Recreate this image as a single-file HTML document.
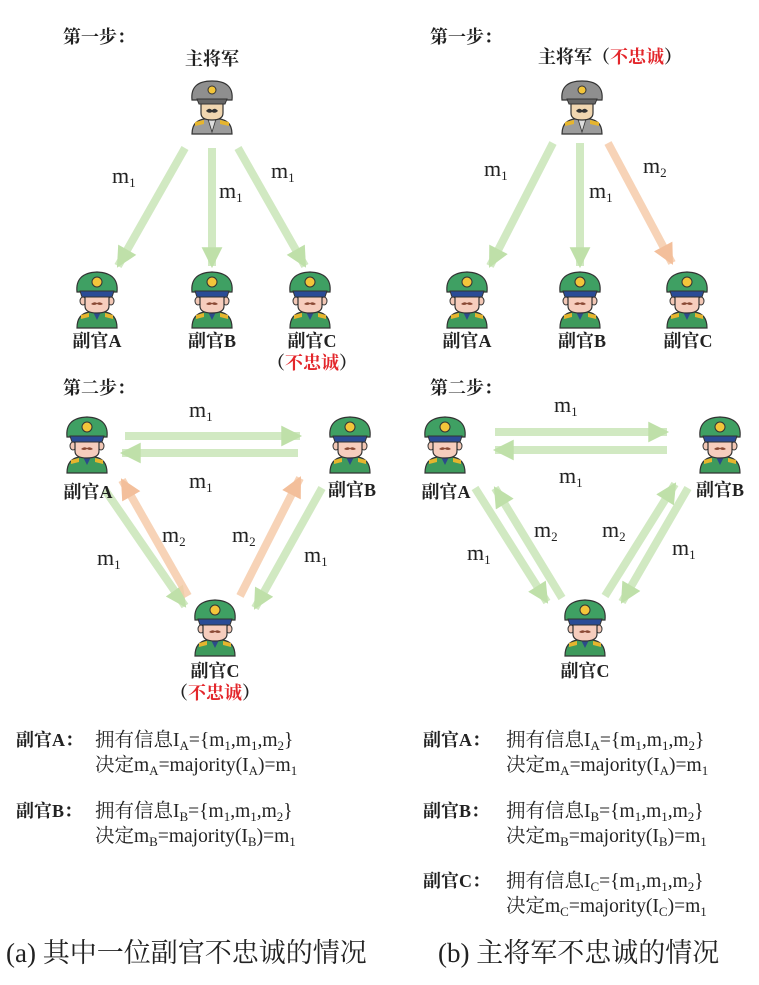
<!DOCTYPE html>
<html><head><meta charset="utf-8"><style>
body{margin:0;background:#fff}
svg{display:block}
text{font-family:"Liberation Serif","Noto Serif CJK SC",serif;fill:#222}
.b{font-family:"Liberation Serif","Noto Sans CJK SC",sans-serif;font-weight:bold;font-size:18px}
.m{font-size:22px}
.t{font-size:19.5px}
.r{fill:#e3262b}
</style></head><body>
<svg width="759" height="985" viewBox="0 0 759 985">
<defs>
<marker id="g" viewBox="0 0 10 10" refX="9" refY="5" markerWidth="3" markerHeight="2.6" orient="auto"><path d="M0,0 L10,5 L0,10z" fill="#bfe0a9"/></marker>
<marker id="o" viewBox="0 0 10 10" refX="9" refY="5" markerWidth="3" markerHeight="2.6" orient="auto"><path d="M0,0 L10,5 L0,10z" fill="#f3bf9b"/></marker>
<g id="s">
<path d="M-20,28 Q-20,14 -8,12 L8,12 Q20,14 20,28z" fill="#3e9a5c" stroke="#333" stroke-width="1.2"/>
<path d="M-4,12 L0,20 L4,12z" fill="#2c4a8a"/>
<path d="M-16,15 L-8,13 L-8,17 L-16,19z M16,15 L8,13 L8,17 L16,19z" fill="#e6b52e"/>
<ellipse cx="-14" cy="1" rx="3" ry="4" fill="#f2c7b5" stroke="#333"/>
<ellipse cx="14" cy="1" rx="3" ry="4" fill="#f2c7b5" stroke="#333"/>
<path d="M-12,-6 L12,-6 L12,6 Q12,13 0,13 Q-12,13 -12,6z" fill="#f6cdbd" stroke="#333" stroke-width="1.2"/>
<path d="M-6,4 Q-3,1 0,3 Q3,1 6,4 Q3,6 0,4 Q-3,6 -6,4z" fill="#8a4a35"/>
<path d="M-20,-8 Q-22,-27 0,-28 Q22,-27 20,-8z" fill="#3fa063" stroke="#333" stroke-width="1.2"/>
<path d="M-17,-9 L17,-9 L15,-3 L-15,-3z" fill="#2a4c96" stroke="#333"/>
<circle cx="0" cy="-18" r="5" fill="#f3c53a" stroke="#333"/>
</g>
<g id="gen">
<path d="M-20,26 Q-20,13 -8,11 L8,11 Q20,13 20,26z" fill="#9c9c9c" stroke="#333" stroke-width="1.2"/>
<path d="M-4,11 L0,24 L4,11z" fill="#ddd" stroke="#333" stroke-width=".8"/>
<path d="M-17,14 L-8,12 L-8,16 L-17,18z M17,14 L8,12 L8,16 L17,18z" fill="#e6b52e"/>
<path d="M-11,-6 L11,-6 L11,5 Q11,12 0,12 Q-11,12 -11,5z" fill="#f0d6b0" stroke="#333" stroke-width="1.2"/>
<path d="M-6,3 Q-3,-1 0,2 Q3,-1 6,3 Q3,6 0,4 Q-3,6 -6,3z" fill="#333"/>
<path d="M-20,-8 Q-22,-27 0,-27 Q22,-27 20,-8z" fill="#8f8f8f" stroke="#333" stroke-width="1.2"/>
<path d="M-15,-9 L15,-9 L13,-4 L-13,-4z" fill="#666" stroke="#333"/>
<circle cx="0" cy="-18" r="4" fill="#f3c53a" stroke="#333"/>
</g>
</defs>

<g stroke-width="8" stroke-opacity=".85" fill="none">
<line x1="185" y1="148" x2="118" y2="266" stroke="#c9e5b7" marker-end="url(#g)"/>
<line x1="212" y1="148" x2="212" y2="266" stroke="#c9e5b7" marker-end="url(#g)"/>
<line x1="238" y1="148" x2="305" y2="266" stroke="#c9e5b7" marker-end="url(#g)"/>
<line x1="553" y1="143" x2="490" y2="266" stroke="#c9e5b7" marker-end="url(#g)"/>
<line x1="580" y1="143" x2="580" y2="266" stroke="#c9e5b7" marker-end="url(#g)"/>
<line x1="608" y1="143" x2="672" y2="263" stroke="#f6cbaa" marker-end="url(#o)"/>
<line x1="125" y1="436" x2="300" y2="436" stroke="#c9e5b7" marker-end="url(#g)"/>
<line x1="298" y1="453" x2="122" y2="453" stroke="#c9e5b7" marker-end="url(#g)"/>
<line x1="105" y1="490" x2="185" y2="606" stroke="#c9e5b7" marker-end="url(#g)"/>
<line x1="188" y1="596" x2="122" y2="480" stroke="#f6cbaa" marker-end="url(#o)"/>
<line x1="240" y1="596" x2="300" y2="478" stroke="#f6cbaa" marker-end="url(#o)"/>
<line x1="322" y1="488" x2="255" y2="608" stroke="#c9e5b7" marker-end="url(#g)"/>
<line x1="495" y1="432" x2="667" y2="432" stroke="#c9e5b7" marker-end="url(#g)"/>
<line x1="667" y1="450" x2="495" y2="450" stroke="#c9e5b7" marker-end="url(#g)"/>
<line x1="475" y1="488" x2="547" y2="602" stroke="#c9e5b7" marker-end="url(#g)"/>
<line x1="562" y1="598" x2="495" y2="488" stroke="#c9e5b7" marker-end="url(#g)"/>
<line x1="605" y1="596" x2="675" y2="484" stroke="#c9e5b7" marker-end="url(#g)"/>
<line x1="688" y1="488" x2="622" y2="602" stroke="#c9e5b7" marker-end="url(#g)"/>
</g>

<use href="#gen" x="212" y="108"/>
<use href="#gen" x="582" y="108"/>
<use href="#s" x="97" y="300"/><use href="#s" x="212" y="300"/><use href="#s" x="310" y="300"/>
<use href="#s" x="467" y="300"/><use href="#s" x="580" y="300"/><use href="#s" x="687" y="300"/>
<use href="#s" x="87" y="445"/><use href="#s" x="350" y="445"/><use href="#s" x="215" y="628"/>
<use href="#s" x="445" y="445"/><use href="#s" x="720" y="445"/><use href="#s" x="585" y="628"/>

<g class="b">
<text x="63" y="43">第一步：</text>
<text x="430" y="43">第一步：</text>
<text x="63" y="394">第二步：</text>
<text x="430" y="394">第二步：</text>
<text x="212" y="65" text-anchor="middle">主将军</text>
<text x="610" y="63" text-anchor="middle">主将军（<tspan class="r">不忠诚</tspan>）</text>
<text x="97" y="347" text-anchor="middle">副官A</text>
<text x="212" y="347" text-anchor="middle">副官B</text>
<text x="312" y="347" text-anchor="middle">副官C</text>
<text x="312" y="369" text-anchor="middle">（<tspan class="r">不忠诚</tspan>）</text>
<text x="467" y="347" text-anchor="middle">副官A</text>
<text x="582" y="347" text-anchor="middle">副官B</text>
<text x="688" y="347" text-anchor="middle">副官C</text>
<text x="88" y="498" text-anchor="middle">副官A</text>
<text x="352" y="496" text-anchor="middle">副官B</text>
<text x="215" y="677" text-anchor="middle">副官C</text>
<text x="215" y="699" text-anchor="middle">（<tspan class="r">不忠诚</tspan>）</text>
<text x="446" y="498" text-anchor="middle">副官A</text>
<text x="720" y="496" text-anchor="middle">副官B</text>
<text x="585" y="677" text-anchor="middle">副官C</text>
<text x="16" y="746">副官A：</text>
<text x="16" y="817">副官B：</text>
<text x="423" y="746">副官A：</text>
<text x="423" y="817">副官B：</text>
<text x="423" y="887">副官C：</text>
</g>

<g class="m">
<text x="112" y="183">m<tspan font-size="13" dy="4">1</tspan></text>
<text x="219" y="198">m<tspan font-size="13" dy="4">1</tspan></text>
<text x="271" y="178">m<tspan font-size="13" dy="4">1</tspan></text>
<text x="484" y="176">m<tspan font-size="13" dy="4">1</tspan></text>
<text x="589" y="198">m<tspan font-size="13" dy="4">1</tspan></text>
<text x="643" y="173">m<tspan font-size="13" dy="4">2</tspan></text>
<text x="189" y="417">m<tspan font-size="13" dy="4">1</tspan></text>
<text x="189" y="488">m<tspan font-size="13" dy="4">1</tspan></text>
<text x="97" y="565">m<tspan font-size="13" dy="4">1</tspan></text>
<text x="162" y="542">m<tspan font-size="13" dy="4">2</tspan></text>
<text x="232" y="542">m<tspan font-size="13" dy="4">2</tspan></text>
<text x="304" y="562">m<tspan font-size="13" dy="4">1</tspan></text>
<text x="554" y="412">m<tspan font-size="13" dy="4">1</tspan></text>
<text x="559" y="483">m<tspan font-size="13" dy="4">1</tspan></text>
<text x="467" y="560">m<tspan font-size="13" dy="4">1</tspan></text>
<text x="534" y="537">m<tspan font-size="13" dy="4">2</tspan></text>
<text x="602" y="537">m<tspan font-size="13" dy="4">2</tspan></text>
<text x="672" y="555">m<tspan font-size="13" dy="4">1</tspan></text>
</g>

<g class="t">
<text x="95" y="746">拥有信息I<tspan font-size="13" dy="4">A</tspan><tspan dy="-4">={m</tspan><tspan font-size="13" dy="4">1</tspan><tspan dy="-4">,m</tspan><tspan font-size="13" dy="4">1</tspan><tspan dy="-4">,m</tspan><tspan font-size="13" dy="4">2</tspan><tspan dy="-4">}</tspan></text>
<text x="95" y="771">决定m<tspan font-size="13" dy="4">A</tspan><tspan dy="-4">=majority(I</tspan><tspan font-size="13" dy="4">A</tspan><tspan dy="-4">)=m</tspan><tspan font-size="13" dy="4">1</tspan></text>
<text x="95" y="817">拥有信息I<tspan font-size="13" dy="4">B</tspan><tspan dy="-4">={m</tspan><tspan font-size="13" dy="4">1</tspan><tspan dy="-4">,m</tspan><tspan font-size="13" dy="4">1</tspan><tspan dy="-4">,m</tspan><tspan font-size="13" dy="4">2</tspan><tspan dy="-4">}</tspan></text>
<text x="95" y="842">决定m<tspan font-size="13" dy="4">B</tspan><tspan dy="-4">=majority(I</tspan><tspan font-size="13" dy="4">B</tspan><tspan dy="-4">)=m</tspan><tspan font-size="13" dy="4">1</tspan></text>
<text x="506" y="746">拥有信息I<tspan font-size="13" dy="4">A</tspan><tspan dy="-4">={m</tspan><tspan font-size="13" dy="4">1</tspan><tspan dy="-4">,m</tspan><tspan font-size="13" dy="4">1</tspan><tspan dy="-4">,m</tspan><tspan font-size="13" dy="4">2</tspan><tspan dy="-4">}</tspan></text>
<text x="506" y="771">决定m<tspan font-size="13" dy="4">A</tspan><tspan dy="-4">=majority(I</tspan><tspan font-size="13" dy="4">A</tspan><tspan dy="-4">)=m</tspan><tspan font-size="13" dy="4">1</tspan></text>
<text x="506" y="817">拥有信息I<tspan font-size="13" dy="4">B</tspan><tspan dy="-4">={m</tspan><tspan font-size="13" dy="4">1</tspan><tspan dy="-4">,m</tspan><tspan font-size="13" dy="4">1</tspan><tspan dy="-4">,m</tspan><tspan font-size="13" dy="4">2</tspan><tspan dy="-4">}</tspan></text>
<text x="506" y="842">决定m<tspan font-size="13" dy="4">B</tspan><tspan dy="-4">=majority(I</tspan><tspan font-size="13" dy="4">B</tspan><tspan dy="-4">)=m</tspan><tspan font-size="13" dy="4">1</tspan></text>
<text x="506" y="887">拥有信息I<tspan font-size="13" dy="4">C</tspan><tspan dy="-4">={m</tspan><tspan font-size="13" dy="4">1</tspan><tspan dy="-4">,m</tspan><tspan font-size="13" dy="4">1</tspan><tspan dy="-4">,m</tspan><tspan font-size="13" dy="4">2</tspan><tspan dy="-4">}</tspan></text>
<text x="506" y="912">决定m<tspan font-size="13" dy="4">C</tspan><tspan dy="-4">=majority(I</tspan><tspan font-size="13" dy="4">C</tspan><tspan dy="-4">)=m</tspan><tspan font-size="13" dy="4">1</tspan></text>
</g>

<text x="6" y="962" font-size="27">(a) 其中一位副官不忠诚的情况</text>
<text x="438" y="962" font-size="27">(b) 主将军不忠诚的情况</text>
</svg>
</body></html>
